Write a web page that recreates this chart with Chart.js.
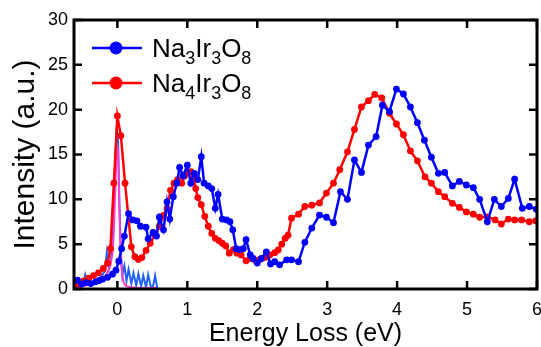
<!DOCTYPE html>
<html>
<head>
<meta charset="utf-8">
<script src="https://cdn.jsdelivr.net/npm/chart.js@4"></script>
<style>
  html, body { margin: 0; padding: 0; background: #fff; }
</style>
</head>
<body>
<canvas id="chart" width="541" height="347"></canvas>
<script>
/* DATA */
const xTicks = [0, 1, 2, 3, 4, 5, 6];
const yTicks = [0, 5, 10, 15, 20, 25, 30];

// Na3Ir3O8 (blue, markers)
const energyNa3 = [-0.62,-0.57,-0.51,-0.45,-0.38,-0.31,-0.26,-0.21,-0.14,-0.07,-0.02,0.02,0.06,0.1,0.16,0.22,0.28,0.33,0.41,0.44,
  0.51,0.56,0.6,0.66,0.71,0.75,0.8,0.85,0.89,0.94,1.0,1.05,1.1,1.15,1.2,1.24,1.3,1.35,1.4,1.44,1.5,1.56,1.61,1.65,1.7,1.75,1.8,1.84,1.9,1.94,
  2.0,2.06,2.13,2.19,2.25,2.32,2.42,2.49,2.59,2.68,2.78,2.89,2.99,3.09,3.19,3.29,3.39,3.49,3.59,3.7,3.79,3.89,3.99,4.09,4.19,4.29,4.39,4.49,
  4.59,4.68,4.79,4.89,4.99,5.09,5.18,5.29,5.39,5.49,5.59,5.68,5.79,5.89,5.99];
const intensityNa3 = [0.9,1.0,0.55,0.7,0.6,0.8,0.95,1.1,1.3,1.65,2.1,3.1,4.5,5.9,8.4,7.7,7.6,7.0,6.9,5.6,
  6.3,5.9,8.0,6.6,9.7,7.8,10.3,11.8,13.55,12.6,13.8,11.8,12.9,12.2,14.75,11.8,11.5,11.2,9.0,10.55,7.8,7.7,7.5,6.6,4.5,4.4,4.5,5.5,3.8,3.4,
  2.9,3.4,4.15,2.8,3.05,2.7,3.25,3.25,3.05,5.2,6.8,8.25,8.0,7.4,10.85,10.0,14.4,13.0,16.05,17.0,20.5,19.8,22.3,21.75,20.3,18.55,16.6,14.7,
  12.9,13.0,11.5,12.0,11.6,11.3,10.0,7.5,10.0,9.2,10.1,12.25,9.0,9.2,8.9];

// Na4Ir3O8 (red, markers)
const energyNa4 = [-0.62,-0.55,-0.48,-0.41,-0.34,-0.27,-0.2,-0.14,-0.1,-0.05,0,0.05,0.11,0.2,0.25,0.3,0.35,0.41,0.47,0.54,
  0.6,0.66,0.71,0.76,0.81,0.86,0.92,0.96,1.0,1.05,1.09,1.12,1.15,1.2,1.25,1.3,1.35,1.4,1.45,1.5,1.55,1.6,1.66,1.71,1.77,1.84,1.91,1.97,
  2.04,2.11,2.18,2.25,2.3,2.35,2.4,2.44,2.49,2.59,2.68,2.78,2.89,2.99,3.09,3.18,3.29,3.39,3.49,3.59,3.68,3.78,3.89,3.99,4.09,4.19,4.29,
  4.4,4.49,4.59,4.68,4.79,4.89,4.99,5.09,5.18,5.29,5.4,5.49,5.59,5.68,5.78,5.89,5.98];
const intensityNa4 = [0.4,0.6,0.9,1.2,1.5,1.8,2.3,2.9,4.5,11.8,19.3,17.1,11.8,4.7,3.6,3.3,3.5,4.3,5.1,6.0,
  7.0,8.2,9.0,11.0,11.8,12.2,11.8,12.6,13.0,13.1,12.4,11.2,10.2,9.4,8.1,7.0,6.2,5.65,5.4,5.1,4.8,4.0,4.4,4.0,3.8,3.15,3.4,3.2,
  3.3,3.5,3.8,4.05,4.35,5.0,5.65,6.0,7.9,8.35,9.2,9.35,9.6,10.7,11.8,13.3,15.3,17.8,20.3,21.0,21.7,21.3,19.6,18.4,17.2,15.4,14.3,
  12.5,11.8,10.85,10.3,9.55,9.1,8.6,8.35,8.0,8.05,7.7,7.25,7.8,7.7,7.7,7.5,7.6];

// elastic line, Na3Ir3O8 (thin blue)
const energyElastic3 = [-0.62,-0.57,-0.53,-0.49,-0.46,-0.42,-0.37,-0.32,-0.27,-0.22,-0.18,-0.15,-0.12,-0.09,-0.06,-0.03,-0.01,0.01,0.03,0.05,
  0.07,0.1,0.13,0.16,0.2,0.23,0.27,0.3,0.34,0.37,0.41,0.44,0.48,0.51,0.54,0.57,0.59];
const intensityElastic3 = [0.2,0.8,0.3,0.5,1.6,0.5,0.7,0.8,1.1,1.5,2.0,4.1,2.3,3.4,7.5,14.5,18.0,16.5,9.5,4.0,
  1.5,2.6,0.9,2.2,0.6,1.8,0.4,1.7,0.3,1.5,0.2,1.6,0.2,0.3,1.5,0.1,0.0];

// elastic line, Na4Ir3O8 (thin pink)
const energyElastic4 = [-0.62,-0.5,-0.4,-0.3,-0.2,-0.15,-0.1,-0.07,-0.05,-0.03,-0.01,0.01,0.03,0.05,0.07,0.09,0.12,0.2,0.3,0.4,0.5,0.55];
const intensityElastic4 = [0.1,0.3,0.5,0.8,1.2,1.7,2.6,4.0,6.5,11.0,16.0,15.5,8.5,3.5,1.6,0.7,0.35,0.2,0.1,0.1,0.1,0.1];

const legendNames = ['Na3Ir3O8', 'Na4Ir3O8'];
const legendColors = ['#0000ff', '#ff0000'];

const FONT = "'Liberation Sans', Arial, Helvetica, sans-serif";

const toPoints = (xs, ys) => xs.map((x, i) => ({ x: x, y: ys[i] }));

// box frame with inward ticks on all four sides
const framePlugin = {
  id: 'frame',
  afterDraw(chart) {
    const { ctx, chartArea: a, scales: { x, y } } = chart;
    ctx.save();
    ctx.strokeStyle = '#000';
    ctx.lineWidth = 2.5;
    ctx.beginPath();
    x.ticks.forEach(t => {
      const px = x.getPixelForValue(t.value);
      ctx.moveTo(px, a.bottom); ctx.lineTo(px, a.bottom - 8);
      ctx.moveTo(px, a.top); ctx.lineTo(px, a.top + 8);
    });
    y.ticks.forEach(t => {
      const py = y.getPixelForValue(t.value);
      ctx.moveTo(a.left, py); ctx.lineTo(a.left + 8, py);
      ctx.moveTo(a.right, py); ctx.lineTo(a.right - 8, py);
    });
    ctx.stroke();
    ctx.lineWidth = 3;
    ctx.strokeRect(a.left, a.top, a.right - a.left, a.bottom - a.top);
    ctx.restore();
  }
};

// legend with subscripted digits
const legendPlugin = {
  id: 'subLegend',
  afterDraw(chart) {
    const { ctx, chartArea: a } = chart;
    ctx.save();
    legendNames.forEach((name, i) => {
      const ly = a.top + 28 + i * 35;
      const lx = a.left + 18;
      ctx.strokeStyle = legendColors[i];
      ctx.lineWidth = 2.5;
      ctx.beginPath();
      ctx.moveTo(lx, ly); ctx.lineTo(lx + 50, ly);
      ctx.stroke();
      ctx.fillStyle = legendColors[i];
      ctx.beginPath();
      ctx.arc(lx + 24, ly, 6.5, 0, Math.PI * 2);
      ctx.fill();

      ctx.fillStyle = '#000';
      ctx.textBaseline = 'alphabetic';
      let tx = lx + 60;
      const base = ly + 9.4;
      name.split(/(\d+)/).filter(s => s).forEach(part => {
        const sub = /^\d+$/.test(part);
        ctx.font = (sub ? 18 : 26) + 'px ' + FONT;
        ctx.fillText(part, tx, sub ? base + 7 : base);
        tx += ctx.measureText(part).width;
      });
    });
    ctx.restore();
  }
};

const ctx = document.getElementById('chart');

new Chart(ctx, {
  type: 'line',
  data: {
    datasets: [
      {
        label: 'Na3Ir3O8',
        data: toPoints(energyNa3, intensityNa3),
        borderColor: '#0000ff',
        backgroundColor: '#0000ff',
        borderWidth: 2.5,
        pointRadius: 3.4,
        pointBorderWidth: 0,
        pointBackgroundColor: '#0000ff'
      },
      {
        label: 'Na4Ir3O8',
        data: toPoints(energyNa4, intensityNa4),
        borderColor: '#ff0000',
        backgroundColor: '#ff0000',
        borderWidth: 2.5,
        pointRadius: 3.4,
        pointBorderWidth: 0,
        pointBackgroundColor: '#ff0000'
      },
      {
        label: 'elastic Na4Ir3O8',
        data: toPoints(energyElastic4, intensityElastic4),
        borderColor: '#ff3ccc',
        borderWidth: 2,
        pointRadius: 0
      },
      {
        label: 'elastic Na3Ir3O8',
        data: toPoints(energyElastic3, intensityElastic3),
        borderColor: '#2060ff',
        borderWidth: 2,
        pointRadius: 0
      }
    ]
  },
  options: {
    responsive: false,
    animation: false,
    devicePixelRatio: 1,
    layout: { padding: { left: 0, right: 4, top: 20, bottom: 0 } },
    plugins: {
      legend: { display: false },
      tooltip: { enabled: false }
    },
    scales: {
      x: {
        type: 'linear',
        min: -0.62,
        max: 6,
        afterBuildTicks: s => { s.ticks = xTicks.map(v => ({ value: v })); },
        afterFit: s => { s.height = 58; s.paddingLeft = 0; s.paddingRight = 0; },
        grid: { display: false, drawTicks: false },
        border: { display: false },
        ticks: { padding: 10, color: '#000', font: { family: FONT, size: 18 }, maxRotation: 0 },
        title: {
          display: true,
          text: 'Energy Loss (eV)',
          color: '#000',
          font: { family: FONT, size: 25, lineHeight: 1 },
          padding: { top: 0, bottom: 0 }
        }
      },
      y: {
        min: 0,
        max: 30,
        afterBuildTicks: s => { s.ticks = yTicks.map(v => ({ value: v })); },
        afterFit: s => { s.width = 74; s.paddingTop = 0; s.paddingBottom = 0; },
        grid: { display: false, drawTicks: false },
        border: { display: false },
        ticks: { padding: 6, color: '#000', font: { family: FONT, size: 18 } },
        title: {
          display: true,
          text: 'Intensity (a.u.)',
          color: '#000',
          font: { family: FONT, size: 30, lineHeight: 1 },
          padding: { top: 11, bottom: 0 }
        }
      }
    }
  },
  plugins: [framePlugin, legendPlugin]
});
</script>
</body>
</html>
